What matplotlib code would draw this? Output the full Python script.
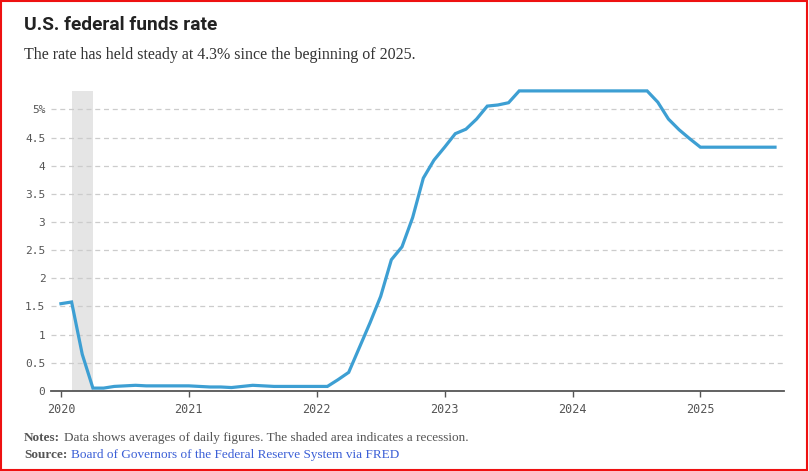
import matplotlib
matplotlib.use("Agg")
import matplotlib.pyplot as plt
from matplotlib.patches import Rectangle
import numpy as np

# monthly averages, Jan 2020 - Aug 2025
start_year = 2020
rate = [1.55, 1.58, 0.65, 0.05, 0.05, 0.08, 0.09, 0.10, 0.09, 0.09, 0.09, 0.09,
        0.09, 0.08, 0.07, 0.07, 0.06, 0.08, 0.10, 0.09, 0.08, 0.08, 0.08, 0.08,
        0.08, 0.08, 0.20, 0.33, 0.77, 1.21, 1.68, 2.33, 2.56, 3.08, 3.78, 4.10,
        4.33, 4.57, 4.65, 4.83, 5.06, 5.08, 5.12, 5.33, 5.33, 5.33, 5.33, 5.33,
        5.33, 5.33, 5.33, 5.33, 5.33, 5.33, 5.33, 5.33, 5.13, 4.83, 4.64, 4.48,
        4.33, 4.33, 4.33, 4.33, 4.33, 4.33, 4.33, 4.33]
recession = (2020 + 1/12, 2020 + 3/12)
year_ticks = [2020, 2021, 2022, 2023, 2024, 2025]
y_ticks = [0, 0.5, 1, 1.5, 2, 2.5, 3, 3.5, 4, 4.5, 5]
y_labels = ['0', '0.5', '1', '1.5', '2', '2.5', '3', '3.5', '4', '4.5', '5%']

x = start_year + np.arange(len(rate)) / 12

fig = plt.figure(figsize=(8.09, 4.71), dpi=100)
ax = fig.add_axes([0.063, 0.170, 0.906, 0.637])

ax.axvspan(recession[0], recession[1], color='#e5e5e5', lw=0, zorder=0)
ax.plot(x, rate, color='#3d9fd3', lw=2.3, solid_joinstyle='miter', zorder=3, clip_on=False)

ax.set_xlim(2020 - 0.078, 2025.653)
ax.set_ylim(0, 5.33)

ax.set_yticks(y_ticks)
ax.set_yticklabels(y_labels, family='DejaVu Sans Mono', fontsize=8, color='#555555')
ax.set_xticks(year_ticks)
ax.set_xticklabels([str(y) for y in year_ticks], family='DejaVu Sans Mono', fontsize=8.5, color='#555555')
ax.tick_params(axis='y', length=0, pad=4)
ax.tick_params(axis='x', length=4, width=1, color='#555555', pad=5, direction='out')

for t in y_ticks[1:]:
    ax.axhline(t, color='#cccccc', lw=0.9, ls=(0, (4, 3)), zorder=1)

for side in ['top', 'right', 'left']:
    ax.spines[side].set_visible(False)
ax.spines['bottom'].set_color('#555555')
ax.spines['bottom'].set_linewidth(1.3)

fig.text(24/809, 1 - 25/471, 'U.S. federal funds rate', family='Roboto', weight='bold',
         fontsize=13.8, color='#222222', va='center')
fig.text(24/809, 1 - 55/471, 'The rate has held steady at 4.3% since the beginning of 2025.',
         family='Liberation Serif', fontsize=11.5, color='#333333', va='center')

# notes and source: bold lead-in, then the rest placed right after it
renderer = fig.canvas.get_renderer()
foot = [('Notes:', 'Data shows averages of daily figures. The shaded area indicates a recession.', '#555555', 438),
        ('Source:', 'Board of Governors of the Federal Reserve System via FRED', '#3b5fd6', 455)]
for lead, rest, col, ypx in foot:
    t = fig.text(24/809, 1 - ypx/471, lead, family='Liberation Serif', weight='bold',
                 fontsize=9.5, color='#555555', va='center')
    bb = t.get_window_extent(renderer)
    fig.text(bb.x1/809 + 4/809, 1 - ypx/471, rest, family='Liberation Serif',
             fontsize=9.5, color=col, va='center')

fig.patches.append(Rectangle((0.001, 0.002), 0.997, 0.996, transform=fig.transFigure,
                             fill=False, edgecolor='#ee1111', lw=1.5))

fig.savefig('out.png', dpi=100)
